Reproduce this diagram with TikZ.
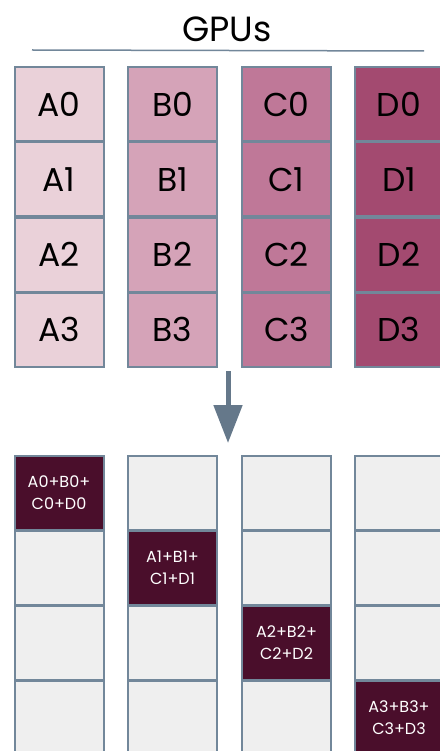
\documentclass[tikz,border=0pt]{standalone}
\usepackage{fontspec}
\setmainfont{Poppins}
\usetikzlibrary{arrows.meta}
\definecolor{cA}{HTML}{EAD1D9}
\definecolor{cB}{HTML}{D5A3B8}
\definecolor{cC}{HTML}{BF7898}
\definecolor{cD}{HTML}{A34A70}
\definecolor{bord}{HTML}{72879A}
\definecolor{dark}{HTML}{4A0E2B}
\definecolor{light}{HTML}{EFEFEF}
\definecolor{arr}{HTML}{65788A}
\tikzset{
  cell/.style={draw=bord, line width=2pt, minimum width=89pt, minimum height=74pt, inner sep=0pt, font=\fontsize{33}{33}\selectfont, text=black},
  res/.style={cell, fill=light},
  sum/.style={cell, fill=dark, draw=bord, text=white, align=center, font=\fontsize{16}{22}\selectfont},
}
\begin{document}
\begin{tikzpicture}[x=1pt,y=-1pt]
\useasboundingbox (0,0) rectangle (439,751);
\fill[white] (0,0) rectangle (439,751);
\node[font=\fontsize{35}{35}\selectfont] (title) at (227,29) {GPUs};
\coordinate (l1) at (32,50);
\coordinate (l2) at (424,51);
\draw[bord, line width=1.5pt] (l1) -- (l2);
\foreach \c/\x/\col in {A/59/cA,B/172.5/cB,C/286.5/cC,D/399/cD}{
  \foreach \r/\y in {0/104.5,1/179.5,2/254.5,3/329.5}{
    \node[cell, fill=\col] (\c\r) at (\x,\y) {\c\r};
  }
}
\coordinate (as) at (228,371);
\coordinate (ae) at (228,443);
\draw[arr, line width=5pt, -{Triangle[length=38pt,width=28pt]}] (as) -- (ae);
% bottom grid
\foreach \c/\x in {A/59,B/172.5,C/286.5,D/399}{
  \foreach \r/\y in {0/492.5,1/567.5,2/642.5,3/717.5}{
    \node[res] (r\c\r) at (\x,\y) {};
  }
}
\node[sum] (sA) at (rA0) {A0+B0+\\C0+D0};
\node[sum] (sB) at (rB1) {A1+B1+\\C1+D1};
\node[sum] (sC) at (rC2) {A2+B2+\\C2+D2};
\node[sum] (sD) at (rD3) {A3+B3+\\C3+D3};
\end{tikzpicture}
\end{document}
